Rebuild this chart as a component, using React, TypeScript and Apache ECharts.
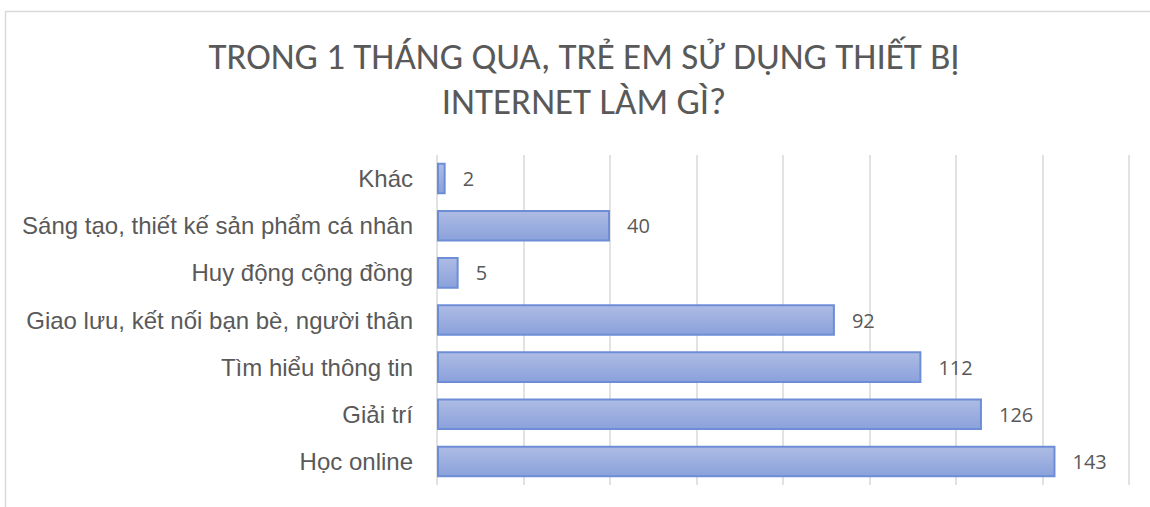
import React, { useEffect, useRef } from "react";
import * as echarts from "echarts";

const titleLines = ["TRONG 1 THÁNG QUA, TRẺ EM SỬ DỤNG THIẾT BỊ", "INTERNET LÀM GÌ?"];
const categories = [
  "Học online",
  "Giải trí",
  "Tìm hiểu thông tin",
  "Giao lưu, kết nối bạn bè, người thân",
  "Huy động cộng đồng",
  "Sáng tạo, thiết kế sản phẩm cá nhân",
  "Khác",
];
const values = [143, 126, 112, 92, 5, 40, 2];
const axisMin = 0;
const axisMax = 160;
const axisInterval = 20;

const titleFont = "Carlito, 'Liberation Sans Narrow', 'Open Sans', sans-serif";

export default function App() {
  const ref = useRef<HTMLDivElement>(null);
  useEffect(() => {
    if (!ref.current) return;
    const chart = echarts.init(ref.current, undefined, { renderer: "svg" });
    const titleTops = [33, 78];
    chart.setOption({
      animation: false,
      backgroundColor: "#ffffff",
      title: titleLines.map((t, i) => ({
        text: t,
        left: 579,
        top: titleTops[i],
        textAlign: "center",
        textStyle: {
          fontFamily: titleFont,
          fontSize: 37,
          fontWeight: "normal",
          color: "#595959",
          lineHeight: 37,
        },
      })),
      graphic: [
        {
          type: "rect",
          shape: { x: 5.5, y: 11.5, width: 1300, height: 700 },
          style: { fill: "none", stroke: "#d9d9d9", lineWidth: 1.5 },
          silent: true,
        },
      ],
      grid: { left: 437, right: 21, top: 155, bottom: 22 },
      xAxis: {
        type: "value",
        min: axisMin,
        max: axisMax,
        interval: axisInterval,
        axisLabel: { show: false },
        axisLine: { show: false },
        axisTick: { show: false },
        splitLine: { show: true, lineStyle: { color: "#d9d9d9", width: 1.5 } },
      },
      yAxis: {
        type: "category",
        data: categories,
        axisLine: { show: false },
        axisTick: { show: false },
        axisLabel: {
          margin: 24,
          fontFamily: "'Liberation Sans', Arial, sans-serif",
          fontSize: 24,
          color: "#595959",
        },
      },
      series: [
        {
          type: "bar",
          data: values,
          barWidth: "67%",
          itemStyle: {
            color: new echarts.graphic.LinearGradient(0, 0, 0, 1, [
              { offset: 0, color: "#aebce4" },
              { offset: 1, color: "#8aa1db" },
            ]),
            borderColor: "#6d8ed6",
            borderWidth: 2,
          },
          label: {
            show: true,
            position: "right",
            distance: 17,
            fontFamily: "'Open Sans', 'Noto Sans', sans-serif",
            fontSize: 20,
            color: "#595959",
          },
        },
      ],
    });
    return () => chart.dispose();
  }, []);
  return (
    <div
      ref={ref}
      style={{ position: "fixed", left: 0, top: 0, width: 1150, height: 507 }}
    />
  );
}
